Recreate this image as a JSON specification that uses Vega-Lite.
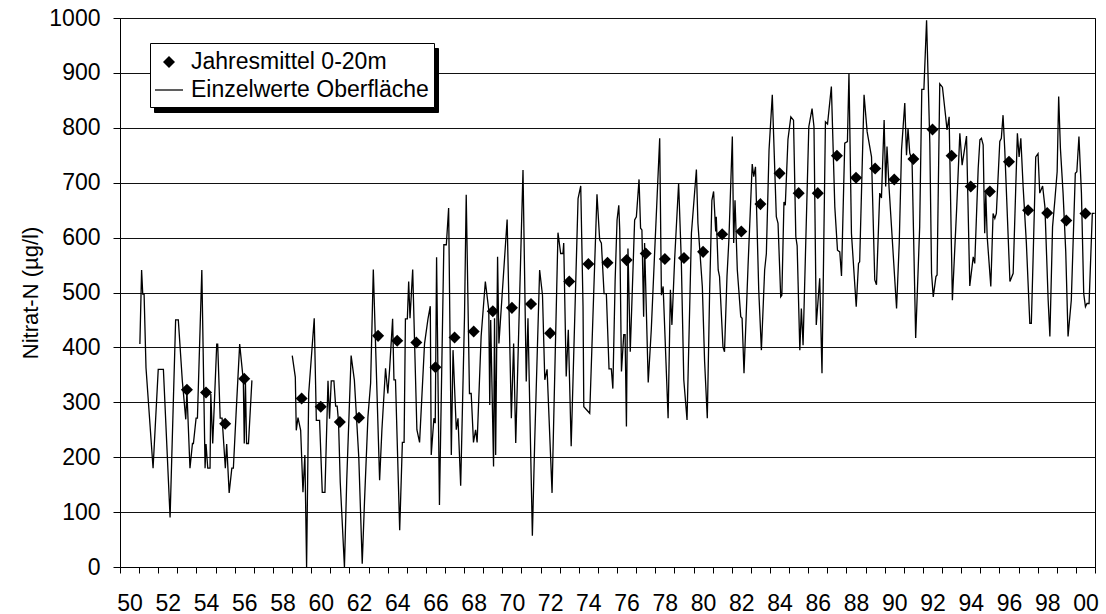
{
  "$schema": "https://vega.github.io/schema/vega-lite/v6.json",
  "width": 975,
  "height": 549,
  "autosize": "none",
  "padding": {"left": 120, "top": 18, "right": 11, "bottom": 47},
  "background": "white",
  "config": {
    "view": {"stroke": "black", "strokeWidth": 1},
    "font": "Liberation Sans",
    "axis": {
      "labelFont": "Liberation Sans",
      "titleFont": "Liberation Sans",
      "labelColor": "black",
      "titleColor": "black",
      "tickColor": "black",
      "domainColor": "black",
      "labelFlush": false,
      "labelOverlap": false
    }
  },
  "datasets": {
    "einzelwerte": [
      {"zeit": 1951.04, "wert": 406, "abschnitt": 1}, {"zeit": 1951.13, "wert": 541, "abschnitt": 1}, {"zeit": 1951.19, "wert": 497, "abschnitt": 1}, {"zeit": 1951.26, "wert": 497, "abschnitt": 1}, {"zeit": 1951.36, "wert": 363, "abschnitt": 1}, {"zeit": 1951.73, "wert": 180, "abschnitt": 1}, {"zeit": 1952.0, "wert": 360, "abschnitt": 1}, {"zeit": 1952.27, "wert": 360, "abschnitt": 1}, {"zeit": 1952.62, "wert": 90, "abschnitt": 1}, {"zeit": 1952.91, "wert": 450, "abschnitt": 1}, {"zeit": 1953.05, "wert": 450, "abschnitt": 1}, {"zeit": 1953.26, "wert": 339, "abschnitt": 1}, {"zeit": 1953.44, "wert": 269, "abschnitt": 1}, {"zeit": 1953.5, "wert": 320, "abschnitt": 1}, {"zeit": 1953.66, "wert": 180, "abschnitt": 1}, {"zeit": 1953.79, "wert": 225, "abschnitt": 1}, {"zeit": 1953.84, "wert": 225, "abschnitt": 1}, {"zeit": 1953.98, "wert": 271, "abschnitt": 1}, {"zeit": 1954.05, "wert": 271, "abschnitt": 1}, {"zeit": 1954.28, "wert": 541, "abschnitt": 1}, {"zeit": 1954.45, "wert": 180, "abschnitt": 1}, {"zeit": 1954.5, "wert": 224, "abschnitt": 1}, {"zeit": 1954.59, "wert": 180, "abschnitt": 1}, {"zeit": 1954.71, "wert": 180, "abschnitt": 1}, {"zeit": 1954.75, "wert": 315, "abschnitt": 1}, {"zeit": 1954.85, "wert": 225, "abschnitt": 1}, {"zeit": 1955.06, "wert": 406, "abschnitt": 1}, {"zeit": 1955.11, "wert": 406, "abschnitt": 1}, {"zeit": 1955.24, "wert": 271, "abschnitt": 1}, {"zeit": 1955.34, "wert": 271, "abschnitt": 1}, {"zeit": 1955.51, "wert": 180, "abschnitt": 1}, {"zeit": 1955.58, "wert": 224, "abschnitt": 1}, {"zeit": 1955.71, "wert": 135, "abschnitt": 1}, {"zeit": 1955.85, "wert": 180, "abschnitt": 1}, {"zeit": 1955.93, "wert": 180, "abschnitt": 1}, {"zeit": 1956.07, "wert": 278, "abschnitt": 1}, {"zeit": 1956.26, "wert": 406, "abschnitt": 1}, {"zeit": 1956.45, "wert": 340, "abschnitt": 1}, {"zeit": 1956.5, "wert": 225, "abschnitt": 1}, {"zeit": 1956.56, "wert": 340, "abschnitt": 1}, {"zeit": 1956.62, "wert": 225, "abschnitt": 1}, {"zeit": 1956.72, "wert": 225, "abschnitt": 1}, {"zeit": 1956.9, "wert": 340, "abschnitt": 1},
      {"zeit": 1959.01, "wert": 385, "abschnitt": 2}, {"zeit": 1959.17, "wert": 346, "abschnitt": 2}, {"zeit": 1959.22, "wert": 249, "abschnitt": 2}, {"zeit": 1959.31, "wert": 272, "abschnitt": 2}, {"zeit": 1959.45, "wert": 249, "abschnitt": 2}, {"zeit": 1959.57, "wert": 136, "abschnitt": 2}, {"zeit": 1959.67, "wert": 204, "abschnitt": 2}, {"zeit": 1959.76, "wert": 0, "abschnitt": 2}, {"zeit": 1959.87, "wert": 316, "abschnitt": 2}, {"zeit": 1960.16, "wert": 453, "abschnitt": 2}, {"zeit": 1960.27, "wert": 267, "abschnitt": 2}, {"zeit": 1960.44, "wert": 267, "abschnitt": 2}, {"zeit": 1960.58, "wert": 136, "abschnitt": 2}, {"zeit": 1960.72, "wert": 136, "abschnitt": 2}, {"zeit": 1960.88, "wert": 339, "abschnitt": 2}, {"zeit": 1960.96, "wert": 270, "abschnitt": 2}, {"zeit": 1961.05, "wert": 339, "abschnitt": 2}, {"zeit": 1961.19, "wert": 339, "abschnitt": 2}, {"zeit": 1961.28, "wert": 293, "abschnitt": 2}, {"zeit": 1961.36, "wert": 293, "abschnitt": 2}, {"zeit": 1961.43, "wert": 265, "abschnitt": 2}, {"zeit": 1961.52, "wert": 155, "abschnitt": 2}, {"zeit": 1961.74, "wert": 0, "abschnitt": 2}, {"zeit": 1961.86, "wert": 158, "abschnitt": 2}, {"zeit": 1962.09, "wert": 385, "abschnitt": 2}, {"zeit": 1962.26, "wert": 340, "abschnitt": 2}, {"zeit": 1962.49, "wert": 200, "abschnitt": 2}, {"zeit": 1962.67, "wert": 6, "abschnitt": 2}, {"zeit": 1962.79, "wert": 120, "abschnitt": 2}, {"zeit": 1962.97, "wert": 274, "abschnitt": 2}, {"zeit": 1963.11, "wert": 335, "abschnitt": 2}, {"zeit": 1963.25, "wert": 542, "abschnitt": 2}, {"zeit": 1963.58, "wert": 158, "abschnitt": 2}, {"zeit": 1963.7, "wert": 250, "abschnitt": 2}, {"zeit": 1963.89, "wert": 362, "abschnitt": 2}, {"zeit": 1964.01, "wert": 316, "abschnitt": 2}, {"zeit": 1964.1, "wert": 359, "abschnitt": 2}, {"zeit": 1964.26, "wert": 452, "abschnitt": 2}, {"zeit": 1964.33, "wert": 341, "abschnitt": 2}, {"zeit": 1964.41, "wert": 341, "abschnitt": 2}, {"zeit": 1964.63, "wert": 67, "abschnitt": 2}, {"zeit": 1964.77, "wert": 227, "abschnitt": 2}, {"zeit": 1964.86, "wert": 227, "abschnitt": 2}, {"zeit": 1964.93, "wert": 452, "abschnitt": 2}, {"zeit": 1965.03, "wert": 452, "abschnitt": 2}, {"zeit": 1965.1, "wert": 520, "abschnitt": 2}, {"zeit": 1965.17, "wert": 453, "abschnitt": 2}, {"zeit": 1965.31, "wert": 542, "abschnitt": 2}, {"zeit": 1965.41, "wert": 407, "abschnitt": 2}, {"zeit": 1965.53, "wert": 250, "abschnitt": 2}, {"zeit": 1965.67, "wert": 227, "abschnitt": 2}, {"zeit": 1965.93, "wert": 407, "abschnitt": 2}, {"zeit": 1966.11, "wert": 452, "abschnitt": 2}, {"zeit": 1966.23, "wert": 475, "abschnitt": 2}, {"zeit": 1966.28, "wert": 204, "abschnitt": 2}, {"zeit": 1966.42, "wert": 271, "abschnitt": 2}, {"zeit": 1966.49, "wert": 262, "abschnitt": 2}, {"zeit": 1966.56, "wert": 564, "abschnitt": 2}, {"zeit": 1966.71, "wert": 113, "abschnitt": 2}, {"zeit": 1966.94, "wert": 587, "abschnitt": 2}, {"zeit": 1967.07, "wert": 587, "abschnitt": 2}, {"zeit": 1967.19, "wert": 654, "abschnitt": 2}, {"zeit": 1967.33, "wert": 204, "abschnitt": 2}, {"zeit": 1967.42, "wert": 395, "abschnitt": 2}, {"zeit": 1967.59, "wert": 250, "abschnitt": 2}, {"zeit": 1967.68, "wert": 271, "abschnitt": 2}, {"zeit": 1967.82, "wert": 148, "abschnitt": 2}, {"zeit": 1968.02, "wert": 456, "abschnitt": 2}, {"zeit": 1968.11, "wert": 678, "abschnitt": 2}, {"zeit": 1968.28, "wert": 316, "abschnitt": 2}, {"zeit": 1968.37, "wert": 316, "abschnitt": 2}, {"zeit": 1968.49, "wert": 227, "abschnitt": 2}, {"zeit": 1968.6, "wert": 250, "abschnitt": 2}, {"zeit": 1968.68, "wert": 227, "abschnitt": 2}, {"zeit": 1968.89, "wert": 420, "abschnitt": 2}, {"zeit": 1969.11, "wert": 520, "abschnitt": 2}, {"zeit": 1969.29, "wert": 468, "abschnitt": 2}, {"zeit": 1969.34, "wert": 295, "abschnitt": 2}, {"zeit": 1969.39, "wert": 450, "abschnitt": 2}, {"zeit": 1969.54, "wert": 183, "abschnitt": 2}, {"zeit": 1969.59, "wert": 453, "abschnitt": 2}, {"zeit": 1969.65, "wert": 204, "abschnitt": 2}, {"zeit": 1969.75, "wert": 565, "abschnitt": 2}, {"zeit": 1969.82, "wert": 407, "abschnitt": 2}, {"zeit": 1970.25, "wert": 633, "abschnitt": 2}, {"zeit": 1970.47, "wert": 271, "abschnitt": 2}, {"zeit": 1970.59, "wert": 407, "abschnitt": 2}, {"zeit": 1970.7, "wert": 226, "abschnitt": 2}, {"zeit": 1971.08, "wert": 723, "abschnitt": 2}, {"zeit": 1971.25, "wert": 338, "abschnitt": 2}, {"zeit": 1971.34, "wert": 453, "abschnitt": 2}, {"zeit": 1971.57, "wert": 57, "abschnitt": 2}, {"zeit": 1971.69, "wert": 226, "abschnitt": 2}, {"zeit": 1971.95, "wert": 541, "abschnitt": 2}, {"zeit": 1972.1, "wert": 495, "abschnitt": 2}, {"zeit": 1972.22, "wert": 341, "abschnitt": 2}, {"zeit": 1972.34, "wert": 360, "abschnitt": 2}, {"zeit": 1972.6, "wert": 135, "abschnitt": 2}, {"zeit": 1972.91, "wert": 609, "abschnitt": 2}, {"zeit": 1973.05, "wert": 571, "abschnitt": 2}, {"zeit": 1973.17, "wert": 571, "abschnitt": 2}, {"zeit": 1973.21, "wert": 590, "abschnitt": 2}, {"zeit": 1973.34, "wert": 347, "abschnitt": 2}, {"zeit": 1973.45, "wert": 432, "abschnitt": 2}, {"zeit": 1973.6, "wert": 220, "abschnitt": 2}, {"zeit": 1973.96, "wert": 671, "abschnitt": 2}, {"zeit": 1974.1, "wert": 694, "abschnitt": 2}, {"zeit": 1974.22, "wert": 474, "abschnitt": 2}, {"zeit": 1974.26, "wert": 292, "abschnitt": 2}, {"zeit": 1974.57, "wert": 280, "abschnitt": 2}, {"zeit": 1974.95, "wert": 679, "abschnitt": 2}, {"zeit": 1975.09, "wert": 596, "abschnitt": 2}, {"zeit": 1975.18, "wert": 590, "abschnitt": 2}, {"zeit": 1975.32, "wert": 498, "abschnitt": 2}, {"zeit": 1975.44, "wert": 498, "abschnitt": 2}, {"zeit": 1975.58, "wert": 361, "abschnitt": 2}, {"zeit": 1975.7, "wert": 361, "abschnitt": 2}, {"zeit": 1975.78, "wert": 325, "abschnitt": 2}, {"zeit": 1975.9, "wert": 523, "abschnitt": 2}, {"zeit": 1976.0, "wert": 632, "abschnitt": 2}, {"zeit": 1976.09, "wert": 659, "abschnitt": 2}, {"zeit": 1976.14, "wert": 614, "abschnitt": 2}, {"zeit": 1976.23, "wert": 356, "abschnitt": 2}, {"zeit": 1976.35, "wert": 423, "abschnitt": 2}, {"zeit": 1976.42, "wert": 423, "abschnitt": 2}, {"zeit": 1976.49, "wert": 256, "abschnitt": 2}, {"zeit": 1976.57, "wert": 580, "abschnitt": 2}, {"zeit": 1976.69, "wert": 392, "abschnitt": 2}, {"zeit": 1976.92, "wert": 632, "abschnitt": 2}, {"zeit": 1977.01, "wert": 638, "abschnitt": 2}, {"zeit": 1977.15, "wert": 706, "abschnitt": 2}, {"zeit": 1977.23, "wert": 617, "abschnitt": 2}, {"zeit": 1977.3, "wert": 614, "abschnitt": 2}, {"zeit": 1977.39, "wert": 456, "abschnitt": 2}, {"zeit": 1977.44, "wert": 590, "abschnitt": 2}, {"zeit": 1977.63, "wert": 336, "abschnitt": 2}, {"zeit": 1977.79, "wert": 432, "abschnitt": 2}, {"zeit": 1977.95, "wert": 560, "abschnitt": 2}, {"zeit": 1978.23, "wert": 781, "abschnitt": 2}, {"zeit": 1978.32, "wert": 495, "abschnitt": 2}, {"zeit": 1978.41, "wert": 511, "abschnitt": 2}, {"zeit": 1978.67, "wert": 271, "abschnitt": 2}, {"zeit": 1978.79, "wert": 505, "abschnitt": 2}, {"zeit": 1978.87, "wert": 441, "abschnitt": 2}, {"zeit": 1979.01, "wert": 559, "abschnitt": 2}, {"zeit": 1979.22, "wert": 699, "abschnitt": 2}, {"zeit": 1979.36, "wert": 559, "abschnitt": 2}, {"zeit": 1979.49, "wert": 341, "abschnitt": 2}, {"zeit": 1979.66, "wert": 268, "abschnitt": 2}, {"zeit": 1979.89, "wert": 608, "abschnitt": 2}, {"zeit": 1980.15, "wert": 724, "abschnitt": 2}, {"zeit": 1980.23, "wert": 626, "abschnitt": 2}, {"zeit": 1980.46, "wert": 511, "abschnitt": 2}, {"zeit": 1980.58, "wert": 374, "abschnitt": 2}, {"zeit": 1980.72, "wert": 271, "abschnitt": 2}, {"zeit": 1980.84, "wert": 498, "abschnitt": 2}, {"zeit": 1980.96, "wert": 668, "abschnitt": 2}, {"zeit": 1981.05, "wert": 684, "abschnitt": 2}, {"zeit": 1981.16, "wert": 611, "abschnitt": 2}, {"zeit": 1981.19, "wert": 638, "abschnitt": 2}, {"zeit": 1981.29, "wert": 541, "abschnitt": 2}, {"zeit": 1981.36, "wert": 529, "abschnitt": 2}, {"zeit": 1981.54, "wert": 401, "abschnitt": 2}, {"zeit": 1981.62, "wert": 392, "abschnitt": 2}, {"zeit": 1981.75, "wert": 529, "abschnitt": 2}, {"zeit": 1981.85, "wert": 596, "abschnitt": 2}, {"zeit": 1982.03, "wert": 784, "abschnitt": 2}, {"zeit": 1982.1, "wert": 590, "abschnitt": 2}, {"zeit": 1982.17, "wert": 668, "abschnitt": 2}, {"zeit": 1982.29, "wert": 541, "abschnitt": 2}, {"zeit": 1982.47, "wert": 456, "abschnitt": 2}, {"zeit": 1982.54, "wert": 453, "abschnitt": 2}, {"zeit": 1982.64, "wert": 353, "abschnitt": 2}, {"zeit": 1982.85, "wert": 547, "abschnitt": 2}, {"zeit": 1983.07, "wert": 734, "abschnitt": 2}, {"zeit": 1983.15, "wert": 711, "abschnitt": 2}, {"zeit": 1983.24, "wert": 729, "abschnitt": 2}, {"zeit": 1983.41, "wert": 505, "abschnitt": 2}, {"zeit": 1983.55, "wert": 395, "abschnitt": 2}, {"zeit": 1983.72, "wert": 541, "abschnitt": 2}, {"zeit": 1983.81, "wert": 571, "abschnitt": 2}, {"zeit": 1983.95, "wert": 760, "abschnitt": 2}, {"zeit": 1984.12, "wert": 860, "abschnitt": 2}, {"zeit": 1984.33, "wert": 638, "abschnitt": 2}, {"zeit": 1984.42, "wert": 626, "abschnitt": 2}, {"zeit": 1984.56, "wert": 492, "abschnitt": 2}, {"zeit": 1984.62, "wert": 495, "abschnitt": 2}, {"zeit": 1984.73, "wert": 665, "abschnitt": 2}, {"zeit": 1984.8, "wert": 659, "abschnitt": 2}, {"zeit": 1984.94, "wert": 779, "abschnitt": 2}, {"zeit": 1985.09, "wert": 820, "abschnitt": 2}, {"zeit": 1985.23, "wert": 814, "abschnitt": 2}, {"zeit": 1985.35, "wert": 602, "abschnitt": 2}, {"zeit": 1985.42, "wert": 585, "abschnitt": 2}, {"zeit": 1985.56, "wert": 395, "abschnitt": 2}, {"zeit": 1985.64, "wert": 471, "abschnitt": 2}, {"zeit": 1985.73, "wert": 404, "abschnitt": 2}, {"zeit": 1986.03, "wert": 802, "abschnitt": 2}, {"zeit": 1986.2, "wert": 835, "abschnitt": 2}, {"zeit": 1986.3, "wert": 802, "abschnitt": 2}, {"zeit": 1986.42, "wert": 441, "abschnitt": 2}, {"zeit": 1986.6, "wert": 526, "abschnitt": 2}, {"zeit": 1986.72, "wert": 353, "abschnitt": 2}, {"zeit": 1986.9, "wert": 811, "abschnitt": 2}, {"zeit": 1987.01, "wert": 807, "abschnitt": 2}, {"zeit": 1987.21, "wert": 875, "abschnitt": 2}, {"zeit": 1987.39, "wert": 656, "abschnitt": 2}, {"zeit": 1987.53, "wert": 577, "abschnitt": 2}, {"zeit": 1987.65, "wert": 574, "abschnitt": 2}, {"zeit": 1987.74, "wert": 530, "abschnitt": 2}, {"zeit": 1987.91, "wert": 772, "abschnitt": 2}, {"zeit": 1988.05, "wert": 775, "abschnitt": 2}, {"zeit": 1988.13, "wert": 899, "abschnitt": 2}, {"zeit": 1988.26, "wert": 608, "abschnitt": 2}, {"zeit": 1988.51, "wert": 474, "abschnitt": 2}, {"zeit": 1988.63, "wert": 553, "abschnitt": 2}, {"zeit": 1988.69, "wert": 556, "abschnitt": 2}, {"zeit": 1988.92, "wert": 860, "abschnitt": 2}, {"zeit": 1989.08, "wert": 793, "abschnitt": 2}, {"zeit": 1989.31, "wert": 747, "abschnitt": 2}, {"zeit": 1989.48, "wert": 523, "abschnitt": 2}, {"zeit": 1989.57, "wert": 514, "abschnitt": 2}, {"zeit": 1989.74, "wert": 681, "abschnitt": 2}, {"zeit": 1989.83, "wert": 672, "abschnitt": 2}, {"zeit": 1989.97, "wert": 814, "abschnitt": 2}, {"zeit": 1990.05, "wert": 693, "abschnitt": 2}, {"zeit": 1990.12, "wert": 766, "abschnitt": 2}, {"zeit": 1990.23, "wert": 690, "abschnitt": 2}, {"zeit": 1990.62, "wert": 471, "abschnitt": 2}, {"zeit": 1990.76, "wert": 590, "abschnitt": 2}, {"zeit": 1990.88, "wert": 760, "abschnitt": 2}, {"zeit": 1991.05, "wert": 845, "abschnitt": 2}, {"zeit": 1991.14, "wert": 750, "abschnitt": 2}, {"zeit": 1991.22, "wert": 799, "abschnitt": 2}, {"zeit": 1991.31, "wert": 754, "abschnitt": 2}, {"zeit": 1991.43, "wert": 741, "abschnitt": 2}, {"zeit": 1991.62, "wert": 417, "abschnitt": 2}, {"zeit": 1991.83, "wert": 620, "abschnitt": 2}, {"zeit": 1991.94, "wert": 870, "abschnitt": 2}, {"zeit": 1992.05, "wert": 870, "abschnitt": 2}, {"zeit": 1992.19, "wert": 996, "abschnitt": 2}, {"zeit": 1992.36, "wert": 772, "abschnitt": 2}, {"zeit": 1992.45, "wert": 535, "abschnitt": 2}, {"zeit": 1992.54, "wert": 492, "abschnitt": 2}, {"zeit": 1992.68, "wert": 529, "abschnitt": 2}, {"zeit": 1992.74, "wert": 532, "abschnitt": 2}, {"zeit": 1992.88, "wert": 880, "abschnitt": 2}, {"zeit": 1993.02, "wert": 874, "abschnitt": 2}, {"zeit": 1993.19, "wert": 820, "abschnitt": 2}, {"zeit": 1993.26, "wert": 796, "abschnitt": 2}, {"zeit": 1993.37, "wert": 820, "abschnitt": 2}, {"zeit": 1993.54, "wert": 486, "abschnitt": 2}, {"zeit": 1993.76, "wert": 650, "abschnitt": 2}, {"zeit": 1993.93, "wert": 790, "abschnitt": 2}, {"zeit": 1994.05, "wert": 732, "abschnitt": 2}, {"zeit": 1994.28, "wert": 785, "abschnitt": 2}, {"zeit": 1994.45, "wert": 512, "abschnitt": 2}, {"zeit": 1994.63, "wert": 565, "abschnitt": 2}, {"zeit": 1994.71, "wert": 553, "abschnitt": 2}, {"zeit": 1994.89, "wert": 726, "abschnitt": 2}, {"zeit": 1994.98, "wert": 778, "abschnitt": 2}, {"zeit": 1995.06, "wert": 781, "abschnitt": 2}, {"zeit": 1995.15, "wert": 769, "abschnitt": 2}, {"zeit": 1995.23, "wert": 608, "abschnitt": 2}, {"zeit": 1995.29, "wert": 681, "abschnitt": 2}, {"zeit": 1995.36, "wert": 602, "abschnitt": 2}, {"zeit": 1995.55, "wert": 511, "abschnitt": 2}, {"zeit": 1995.67, "wert": 644, "abschnitt": 2}, {"zeit": 1995.76, "wert": 635, "abschnitt": 2}, {"zeit": 1995.84, "wert": 644, "abschnitt": 2}, {"zeit": 1996.02, "wert": 775, "abschnitt": 2}, {"zeit": 1996.1, "wert": 781, "abschnitt": 2}, {"zeit": 1996.19, "wert": 823, "abschnitt": 2}, {"zeit": 1996.28, "wert": 760, "abschnitt": 2}, {"zeit": 1996.55, "wert": 520, "abschnitt": 2}, {"zeit": 1996.72, "wert": 535, "abschnitt": 2}, {"zeit": 1996.94, "wert": 790, "abschnitt": 2}, {"zeit": 1997.03, "wert": 747, "abschnitt": 2}, {"zeit": 1997.12, "wert": 781, "abschnitt": 2}, {"zeit": 1997.24, "wert": 693, "abschnitt": 2}, {"zeit": 1997.41, "wert": 590, "abschnitt": 2}, {"zeit": 1997.59, "wert": 444, "abschnitt": 2}, {"zeit": 1997.67, "wert": 444, "abschnitt": 2}, {"zeit": 1997.76, "wert": 559, "abschnitt": 2}, {"zeit": 1997.9, "wert": 747, "abschnitt": 2}, {"zeit": 1998.02, "wert": 753, "abschnitt": 2}, {"zeit": 1998.11, "wert": 681, "abschnitt": 2}, {"zeit": 1998.26, "wert": 694, "abschnitt": 2}, {"zeit": 1998.38, "wert": 656, "abschnitt": 2}, {"zeit": 1998.55, "wert": 486, "abschnitt": 2}, {"zeit": 1998.64, "wert": 420, "abschnitt": 2}, {"zeit": 1998.78, "wert": 620, "abschnitt": 2}, {"zeit": 1998.9, "wert": 668, "abschnitt": 2}, {"zeit": 1999.02, "wert": 720, "abschnitt": 2}, {"zeit": 1999.1, "wert": 857, "abschnitt": 2}, {"zeit": 1999.19, "wert": 763, "abschnitt": 2}, {"zeit": 1999.33, "wert": 681, "abschnitt": 2}, {"zeit": 1999.47, "wert": 574, "abschnitt": 2}, {"zeit": 1999.59, "wert": 420, "abschnitt": 2}, {"zeit": 1999.76, "wert": 486, "abschnitt": 2}, {"zeit": 1999.97, "wert": 717, "abschnitt": 2}, {"zeit": 2000.05, "wert": 720, "abschnitt": 2}, {"zeit": 2000.16, "wert": 784, "abschnitt": 2}, {"zeit": 2000.29, "wert": 681, "abschnitt": 2}, {"zeit": 2000.41, "wert": 498, "abschnitt": 2}, {"zeit": 2000.5, "wert": 474, "abschnitt": 2}, {"zeit": 2000.58, "wert": 480, "abschnitt": 2}, {"zeit": 2000.69, "wert": 480, "abschnitt": 2}, {"zeit": 2000.86, "wert": 644, "abschnitt": 2}, {"zeit": 2000.98, "wert": 644, "abschnitt": 2}
    ],
    "jahresmittel": [
      {"zeit": 1953.5, "wert": 323}, {"zeit": 1954.5, "wert": 318}, {"zeit": 1955.5, "wert": 261}, {"zeit": 1956.5, "wert": 343},
      {"zeit": 1959.5, "wert": 307}, {"zeit": 1960.5, "wert": 292}, {"zeit": 1961.5, "wert": 264}, {"zeit": 1962.5, "wert": 272},
      {"zeit": 1963.5, "wert": 421}, {"zeit": 1964.5, "wert": 412}, {"zeit": 1965.5, "wert": 409}, {"zeit": 1966.5, "wert": 364},
      {"zeit": 1967.5, "wert": 418}, {"zeit": 1968.5, "wert": 429}, {"zeit": 1969.5, "wert": 466}, {"zeit": 1970.5, "wert": 472},
      {"zeit": 1971.5, "wert": 479}, {"zeit": 1972.5, "wert": 426}, {"zeit": 1973.5, "wert": 520}, {"zeit": 1974.5, "wert": 552},
      {"zeit": 1975.5, "wert": 554}, {"zeit": 1976.5, "wert": 559}, {"zeit": 1977.5, "wert": 571}, {"zeit": 1978.5, "wert": 561},
      {"zeit": 1979.5, "wert": 563}, {"zeit": 1980.5, "wert": 574}, {"zeit": 1981.5, "wert": 606}, {"zeit": 1982.5, "wert": 611},
      {"zeit": 1983.5, "wert": 661}, {"zeit": 1984.5, "wert": 717}, {"zeit": 1985.5, "wert": 681}, {"zeit": 1986.5, "wert": 681},
      {"zeit": 1987.5, "wert": 749}, {"zeit": 1988.5, "wert": 709}, {"zeit": 1989.5, "wert": 726}, {"zeit": 1990.5, "wert": 706},
      {"zeit": 1991.5, "wert": 743}, {"zeit": 1992.5, "wert": 797}, {"zeit": 1993.5, "wert": 749}, {"zeit": 1994.5, "wert": 693},
      {"zeit": 1995.5, "wert": 684}, {"zeit": 1996.5, "wert": 738}, {"zeit": 1997.5, "wert": 650}, {"zeit": 1998.5, "wert": 645},
      {"zeit": 1999.5, "wert": 631}, {"zeit": 2000.5, "wert": 644}
    ]
  },
  "layer": [
    {
      "data": {"name": "einzelwerte"},
      "mark": {"type": "line", "color": "black", "strokeWidth": 1.3},
      "encoding": {
        "x": {
          "field": "zeit",
          "type": "quantitative",
          "scale": {"domain": [1950, 2001], "nice": false, "zero": false},
          "axis": {
            "title": null,
            "grid": false,
            "values": [1950, 1951, 1952, 1953, 1954, 1955, 1956, 1957, 1958, 1959, 1960, 1961, 1962, 1963, 1964, 1965, 1966, 1967, 1968, 1969, 1970, 1971, 1972, 1973, 1974, 1975, 1976, 1977, 1978, 1979, 1980, 1981, 1982, 1983, 1984, 1985, 1986, 1987, 1988, 1989, 1990, 1991, 1992, 1993, 1994, 1995, 1996, 1997, 1998, 1999, 2000, 2001],
            "tickCount": 100,
            "labelExpr": "datum.value % 2 == 0 && datum.value < 2001 ? format(datum.value % 100, '02d') : ''",
            "labelOffset": 9.55,
            "labelOverlap": false,
            "labelBound": false,
            "labelFlush": false,
            "labelFontSize": 23,
            "labelPadding": 19,
            "tickSize": 6
          }
        },
        "y": {
          "field": "wert",
          "type": "quantitative",
          "scale": {"domain": [0, 1000], "nice": false},
          "axis": {
            "title": "Nitrat-N (µg/l)",
            "titleFontSize": 22,
            "titleFontWeight": "normal",
            "titlePadding": 6,
            "values": [0, 100, 200, 300, 400, 500, 600, 700, 800, 900, 1000],
            "tickCount": 20,
            "format": "d",
            "labelOverlap": false,
            "grid": true,
            "gridColor": "#111111",
            "gridWidth": 1,
            "gridOpacity": 1,
            "domain": false,
            "labelFontSize": 23,
            "labelPadding": 13,
            "tickSize": 7
          }
        },
        "detail": {"field": "abschnitt", "type": "nominal"}
      }
    },
    {
      "data": {"name": "jahresmittel"},
      "mark": {"type": "point", "filled": true, "color": "black", "opacity": 1, "size": 784},
      "encoding": {
        "x": {"field": "zeit", "type": "quantitative"},
        "y": {"field": "wert", "type": "quantitative"},
        "fill": {
          "datum": "s1",
          "scale": {"domain": ["s1", "s2"], "range": ["black", "black"]},
          "legend": {
            "title": null,
            "orient": "none",
            "legendX": 34,
            "legendY": 30,
            "zindex": 1,
            "fillColor": "black",
            "strokeColor": "black",
            "padding": 5,
            "labelExpr": "''",
            "labelFontSize": 23,
            "labelOffset": 246,
            "labelLimit": 0,
            "rowPadding": 2,
            "symbolType": "M-1,-0.045H1V0.045H-1Z",
            "symbolSize": 784,
            "symbolStrokeWidth": 0
          }
        },
        "shape": {
          "datum": "Jahresmittel 0-20m",
          "scale": {
            "domain": ["Jahresmittel 0-20m", "Einzelwerte Oberfläche"],
            "range": ["M-0.43,0L0,-0.43L0.43,0L0,0.43Z", "M-1,-0.045H1V0.045H-1Z"]
          },
          "legend": {
            "title": null,
            "orient": "none",
            "legendX": 30,
            "legendY": 25,
            "zindex": 2,
            "fillColor": "white",
            "strokeColor": "black",
            "padding": 5,
            "labelFont": "Liberation Sans",
            "labelFontSize": 23,
            "labelColor": "black",
            "labelOffset": 8,
            "labelLimit": 0,
            "rowPadding": 2,
            "symbolSize": 784,
            "symbolStrokeWidth": 0,
            "symbolFillColor": "black",
            "symbolOpacity": 1
          }
        }
      }
    }
  ]
}
